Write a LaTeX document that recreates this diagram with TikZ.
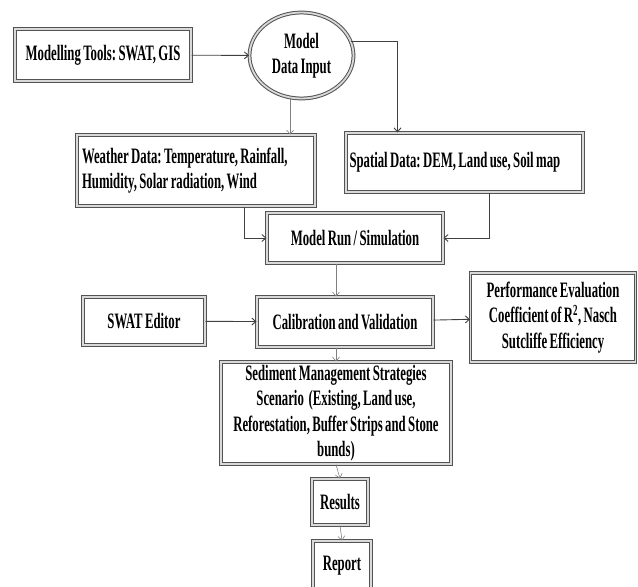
\documentclass[tikz,border=0pt]{standalone}
\usepackage{fontspec}
\setmainfont{Liberation Serif}[FakeStretch=0.58, WordSpace=0.75]
\usepackage{tikz}
\usetikzlibrary{shapes.geometric,arrows.meta}
\newcommand{\linkto}[2]{
  \draw [link] (#1) -- (#2)
}

\begin{document}
\begin{tikzpicture}[x=1pt,y=-1pt,
  every node/.style={font=\fontsize{22}{25.5}\selectfont\bfseries\frenchspacing, inner sep=0pt},
  stage/.style={rectangle, draw=gray!65!black, double=gray!30, double distance=1.8pt, line width=1pt, fill=white, align=center},
  leftstage/.style={stage, align=flush left, execute at begin node={\spaceskip=0pt\xspaceskip=0pt}},
  oval/.style={ellipse, draw=gray!65!black, double=gray!30, double distance=1.8pt, line width=1pt, fill=white, align=center},
  link/.style={draw=black!75, line width=0.9pt, -{Straight Barb[length=4pt,width=7pt]}},
  thinlink/.style={draw=gray, line width=0.6pt, -{Straight Barb[length=4pt,width=7pt]}}]
\useasboundingbox (0,0) rectangle (638,587);

% top row
\node[stage, minimum width=176, minimum height=52] (tools) at (103,55) {Modelling Tools: SWAT, GIS};
\node[oval, minimum width=104, minimum height=86] (input) at (301.5,55.5) {Model\\Data Input};

% input data
\node[leftstage, minimum width=238, minimum height=71, text width=228] (weather) at (196,170.5)
  {Weather Data: Temperature, Rainfall,\\Humidity, Solar radiation, Wind};
\node[leftstage, minimum width=237, minimum height=59, text width=230] (spatial) at (464.5,162.5)
  {Spatial Data: DEM, Land use, Soil map};

% model
\node[stage, minimum width=176, minimum height=50] (run) at (355,238) {Model Run / Simulation};
\node[stage, minimum width=176, minimum height=50] (calib) at (345,322) {Calibration and Validation};
\node[stage, minimum width=122, minimum height=48] (editor) at (144,321) {SWAT Editor};
\node[stage, minimum width=165, minimum height=89] (perf) at (553,317.5)
  {Performance Evaluation\\Coefficient of R\textsuperscript{2}, Nasch\\Sutcliffe Efficiency};

% outputs
\node[stage, minimum width=230, minimum height=102] (sediment) at (336,413)
  {Sediment Management Strategies\\Scenario~ (Existing, Land use,\\Reforestation, Buffer Strips and Stone\\bunds)};
\node[stage, minimum width=56, minimum height=46] (results) at (340,502) {Results};
\node[stage, minimum width=58, minimum height=50] (report) at (342,566) {Report};

% connect top row
\linkto {tools} {input};
\draw [link] (input.16) -| ([xshift=52pt]spatial.north west);
\draw [thinlink] (input.255) -- (input.255 |- weather.north);

% connect data to model run
\draw [link] ([xshift=48pt]weather.south) |- (run.west);
\draw [link] ([xshift=25pt]spatial.south) |- (run.east);

% connect model run
\draw [thinlink] ([xshift=-19pt]run.south) -- ([xshift=-19pt]run.south |- calib.north);
\linkto {editor} {calib};
\linkto {calib} {perf};

% connect outputs
\draw [thinlink] ([xshift=-9pt]calib.south) -- (sediment.north);
\draw [thinlink] (sediment.south) -- (results.north);
\draw [thinlink] (results.south) -- (report.north);

\end{tikzpicture}
\end{document}
